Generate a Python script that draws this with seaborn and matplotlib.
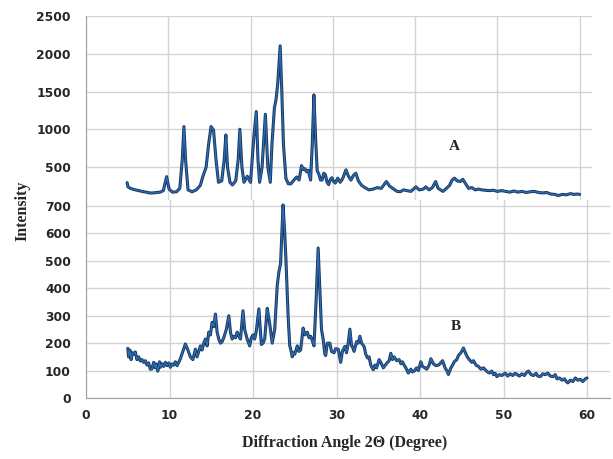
import pandas as pd
import seaborn as sns
import matplotlib.pyplot as plt

# Sample A (upper panel)
a_angle = [5.0, 5.1, 5.4, 5.8, 6.2, 6.6, 7.0, 7.4, 7.8, 8.2, 8.6, 9.0, 9.4, 9.8, 10.1, 10.5, 11.0, 11.4,
           11.7, 11.9, 12.1, 12.4, 12.9, 13.4, 13.9, 14.2, 14.6, 14.9, 15.2, 15.5, 15.8, 16.1, 16.5, 16.8,
           17.0, 17.2, 17.5, 17.8, 18.2, 18.5, 18.7, 18.95, 19.2, 19.6, 20.0, 20.2, 20.4, 20.7, 20.9, 21.1,
           21.4, 21.8, 22.1, 22.4, 22.6, 22.9, 23.1, 23.3, 23.6, 23.8, 24.0, 24.3, 24.6, 24.9, 25.2, 25.6,
           25.9, 26.2, 26.4, 26.6, 26.8, 27.0, 27.3, 27.5, 27.7, 27.9, 28.1, 28.3, 28.5, 28.7, 28.9, 29.1,
           29.3, 29.5, 29.7, 29.9, 30.1, 30.3, 30.6, 30.9, 31.2, 31.6, 31.9, 32.2, 32.5, 32.8, 33.1, 33.5,
           33.9, 34.4, 34.9, 35.4, 35.9, 36.5, 36.9, 37.4, 37.8, 38.2, 38.6, 39.0, 39.5, 40.1, 40.5, 41.0,
           41.3, 41.7, 42.1, 42.5, 42.8, 43.1, 43.4, 43.8, 44.2, 44.5, 44.8, 45.1, 45.5, 45.8, 46.2, 46.5,
           46.9, 47.3, 47.7, 48.1, 48.5, 49.0, 49.5, 50.0, 50.5, 51.0, 51.5, 52.0, 52.5, 53.0, 53.5, 54.0,
           54.5, 55.0, 55.5, 56.0, 56.5, 57.0, 57.4, 57.9, 58.4, 58.9, 59.3, 59.7, 60.0]
a_intensity = [295, 240, 220, 205, 195, 185, 175, 168, 158, 160, 165, 170, 190, 375, 210, 170, 175, 220,
               600, 1037, 600, 200, 175, 200, 260, 375, 500, 800, 1037, 990, 600, 300, 320, 600,
               927, 500, 300, 265, 320, 600, 1002, 500, 300, 380, 300, 600, 900, 1236, 600, 300,
               500, 1200, 500, 300, 800, 1285, 1395, 1600, 2105, 1500, 800, 350, 280, 280, 320, 370,
               330, 520, 470, 480, 440, 460, 330, 800, 1457, 900, 450, 410, 330, 330, 420, 400,
               300, 270, 340, 360, 310, 290, 355, 300, 350, 465, 380, 330, 390, 420, 320, 260,
               230, 200, 210, 230, 220, 310, 250, 210, 180, 175, 200, 190, 180, 240, 200, 210,
               240, 200, 230, 310, 220, 200, 180, 220, 260, 330, 355, 320, 310, 340, 270, 220,
               230, 200, 210, 200, 195, 190, 195, 180, 190, 180, 170, 185, 170, 180, 165, 175,
               180, 165, 160, 165, 145, 140, 125, 140, 135, 150, 140, 145, 140]

# Sample B (lower panel)
b_angle = [5.0, 5.1, 5.25, 5.4, 5.55, 5.7, 5.9, 6.1, 6.3, 6.5, 6.7, 6.9, 7.1, 7.3, 7.5, 7.7, 7.9, 8.1,
           8.3, 8.4, 8.6, 8.8, 8.9, 9.1, 9.3, 9.5, 9.7, 9.9, 10.1, 10.3, 10.5, 10.7, 10.9, 11.1, 11.3,
           11.6, 11.9, 12.2, 12.5, 12.8, 13.1, 13.3, 13.5, 13.7, 13.9, 14.1, 14.3, 14.5, 14.7, 14.9,
           15.1, 15.3, 15.5, 15.7, 15.9, 16.1, 16.3, 16.5, 16.8, 17.1, 17.3, 17.5, 17.7, 17.9, 18.1,
           18.3, 18.5, 18.8, 19.0, 19.3, 19.6, 19.8, 20.0, 20.2, 20.4, 20.7, 20.85, 21.0, 21.2, 21.4,
           21.7, 21.85, 22.0, 22.3, 22.6, 22.9, 23.1, 23.3, 23.6, 23.8, 23.95, 24.2, 24.4, 24.5, 24.7,
           24.8, 25.0, 25.3, 25.5, 25.7, 26.0, 26.2, 26.5, 26.7, 26.9, 27.1, 27.3, 27.55, 27.8, 28.0,
           28.2, 28.4, 28.6, 28.7, 28.9, 29.2, 29.4, 29.7, 29.9, 30.2, 30.5, 30.7, 31.0, 31.2, 31.4,
           31.6, 31.8, 31.9, 32.1, 32.4, 32.6, 32.8, 33.0, 33.3, 33.5, 33.7, 33.9, 34.1, 34.4, 34.6,
           34.8, 35.1, 35.3, 35.6, 35.8, 36.1, 36.3, 36.5, 36.7, 36.9, 37.2, 37.5, 37.7, 37.9, 38.1,
           38.3, 38.6, 38.9, 39.1, 39.3, 39.6, 39.8, 40.1, 40.3, 40.6, 40.8, 41.1, 41.3, 41.6, 41.9,
           42.2, 42.4, 42.7, 43.0, 43.2, 43.4, 43.7, 43.9, 44.1, 44.4, 44.6, 44.9, 45.2, 45.5, 45.7,
           45.9, 46.2, 46.4, 46.7, 47.0, 47.3, 47.6, 47.9, 48.1, 48.3, 48.6, 48.8, 49.0, 49.2, 49.5,
           49.8, 50.2, 50.5, 50.8, 51.1, 51.4, 51.6, 51.9, 52.2, 52.5, 52.8, 53.0, 53.3, 53.6, 53.9,
           54.1, 54.4, 54.7, 55.0, 55.3, 55.6, 55.9, 56.2, 56.4, 56.7, 57.0, 57.3, 57.5, 57.7, 58.0,
           58.3, 58.6, 58.9, 59.2, 59.5, 59.8, 60.0]
b_intensity = [181, 150, 175, 140, 165, 160, 168, 140, 150, 135, 140, 130, 136, 120, 128, 105, 106, 130,
               110, 124, 98, 132, 112, 125, 115, 130, 118, 128, 112, 124, 120, 132, 118, 130, 143,
               170, 197, 175, 150, 140, 178, 150, 170, 190, 175, 200, 215, 190, 240, 230,
               276, 260, 306, 240, 215, 200, 205, 220, 250, 300, 240, 215, 225, 220, 240,
               225, 215, 318, 250, 215, 190, 220, 230, 215, 245, 325, 260, 195, 200, 215,
               327, 300, 270, 200, 250, 410, 460, 490, 704, 600, 500, 300, 190, 180, 150,
               165, 160, 190, 170, 175, 255, 230, 240, 220, 225, 210, 190, 350, 547, 400,
               250, 215, 160, 155, 200, 200, 170, 165, 180, 178, 130, 170, 188, 165, 200,
               251, 190, 188, 170, 205, 200, 225, 200, 188, 160, 146, 150, 120, 103, 120,
               110, 140, 130, 110, 118, 130, 135, 163, 140, 150, 136, 140, 125, 132, 120,
               110, 91, 105, 95, 98, 110, 100, 132, 115, 110, 105, 120, 143, 125, 118,
               120, 125, 136, 110, 100, 86, 110, 120, 132, 140, 155, 165, 182, 160, 148,
               140, 130, 136, 120, 115, 105, 110, 100, 95, 91, 98, 85, 90, 78, 85,
               82, 91, 80, 88, 82, 90, 86, 80, 88, 82, 95, 98, 85, 82, 90,
               80, 78, 88, 85, 91, 80, 78, 85, 70, 73, 65, 70, 60, 55, 65,
               60, 73, 65, 68, 60, 70, 73]

a_ticks = [500, 1000, 1500, 2000, 2500]
b_ticks = [0, 100, 200, 300, 400, 500, 600, 700]
x_ticks = [0, 10, 20, 30, 40, 50, 60]

df_a = pd.DataFrame({'angle': a_angle, 'intensity': a_intensity})
df_b = pd.DataFrame({'angle': b_angle, 'intensity': b_intensity})

sns.set_style('white')
plt.rcParams['font.family'] = ['DejaVu Sans']

fig = plt.figure(figsize=(6.13, 4.59), dpi=100)
ax_a = fig.add_axes([0.1403, 0.5534, 0.8254, 0.4118])
ax_b = fig.add_axes([0.1403, 0.1329, 0.8548, 0.4314])

grid_col = '#d4d4d4'
dark = '#17365d'
light = '#2e6db4'

for ax, df in [(ax_a, df_a), (ax_b, df_b)]:
    sns.lineplot(data=df, x='angle', y='intensity', ax=ax, color=dark, linewidth=2.2, estimator=None)
    sns.lineplot(data=df, x='angle', y='intensity', ax=ax, color=light, linewidth=0.9, estimator=None)
    ax.set_xlabel('')
    ax.set_ylabel('')
    ax.grid(True, color=grid_col, linewidth=1.0)
    ax.set_axisbelow(True)
    for s in ['top', 'right']:
        ax.spines[s].set_visible(False)
    ax.spines['left'].set_color('#a0a0a0')
    ax.tick_params(length=0, labelsize=8.8, labelcolor='#262626', pad=11)

ax_a.set_xlim(0, 61.5)
ax_a.set_ylim(0, 2500)
ax_a.set_xticks(x_ticks)
ax_a.set_yticks(a_ticks)
ax_a.set_yticklabels([str(t) for t in a_ticks], fontweight='bold')
ax_a.tick_params(axis='x', labelbottom=False)
ax_a.spines['bottom'].set_visible(False)

ax_b.set_xlim(0, 62.75)
ax_b.set_ylim(0, 722)
ax_b.set_xticks(x_ticks)
ax_b.set_xticklabels([str(t) for t in x_ticks], fontweight='bold')
ax_b.set_yticks(b_ticks)
ax_b.set_yticklabels([str(t) for t in b_ticks], fontweight='bold')
ax_b.spines['bottom'].set_color('#a0a0a0')
ax_b.tick_params(axis='x', pad=8)

serif = ['Liberation Serif', 'DejaVu Serif']
ax_a.text(44.8, 768, 'A', family=serif, fontweight='bold', fontsize=11, ha='center', va='center')
ax_b.text(44.3, 259, 'B', family=serif, fontweight='bold', fontsize=11, ha='center', va='center')

fig.text(0.036, 0.54, 'Intensity', family=serif, fontweight='bold', fontsize=11.5,
         rotation=90, ha='center', va='center')
fig.text(0.563, 0.035, 'Diffraction Angle 2\u0398 (Degree)', family=serif, fontweight='bold',
         fontsize=11.5, ha='center', va='center')

fig.savefig('out.png', dpi=100)
